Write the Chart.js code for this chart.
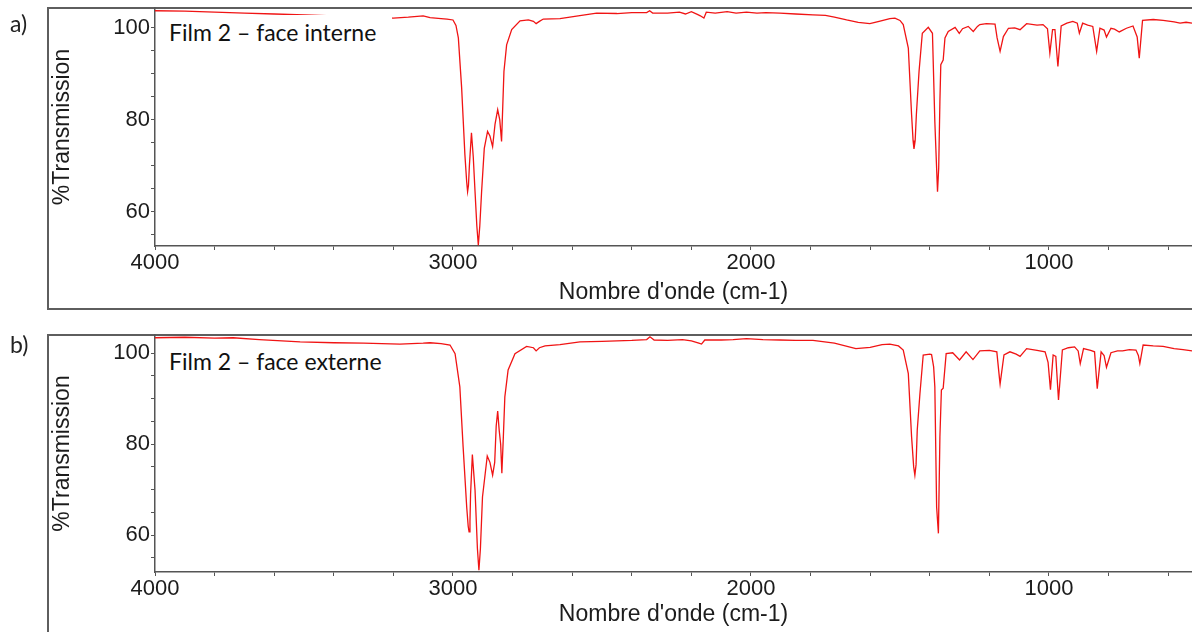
<!DOCTYPE html>
<html>
<head>
<meta charset="utf-8">
<script src="https://cdn.jsdelivr.net/npm/chart.js@4/dist/chart.umd.min.js"></script>
<style>
  body { margin: 0; width: 1192px; height: 632px; overflow: hidden; position: relative; background: #fff; }
  .frame { position: absolute; left: 47px; width: 1170px; border: 2px solid #5e5e5e; box-sizing: border-box; }
  #frameA { top: 7px; height: 303px; }
  #frameB { top: 334px; height: 320px; }
  canvas { position: absolute; left: 0; }
  #chartA { top: 0; }
  #chartB { top: 327px; }
  .tag { position: absolute; left: 10px; font-family: Lato, "Noto Sans", sans-serif; font-size: 23px; line-height: 1; color: #222; }
  .film { position: absolute; left: 158px; width: 223px; background: #fff; padding-left: 11px;
          font-family: Lato, "Noto Sans", sans-serif; font-size: 23px; line-height: 1; color: #111; white-space: nowrap; }
  #filmA { top: 15px; height: 32px; padding-top: 6px; }
  #filmB { top: 347px; height: 32px; padding-top: 3px; }
</style>
</head>
<body>
<div class="frame" id="frameA"></div>
<div class="frame" id="frameB"></div>
<canvas id="chartA" width="1192" height="310"></canvas>
<canvas id="chartB" width="1192" height="305"></canvas>
<div class="tag" style="top:12px">a)</div>
<div class="tag" style="top:333px">b)</div>
<div class="film" id="filmA">Film 2 – face interne</div>
<div class="film" id="filmB">Film 2 – face externe</div>

<script>
// wavenumbers (cm-1) and %T read off panel a) - face interne
const waveA = [4000, 3900, 3800, 3700, 3600, 3500, 3400, 3300, 3200, 3150, 3100, 3077, 3040, 3020, 3000,
  2990, 2982, 2971, 2960, 2954, 2951, 2948, 2945, 2938, 2932, 2926, 2920, 2915, 2910, 2904, 2895, 2884, 2876, 2867, 2859, 2850,
  2843, 2837, 2829, 2820, 2803, 2775, 2747, 2730, 2721, 2710, 2697, 2641, 2580, 2518, 2450, 2400, 2350,
  2340, 2330, 2280, 2240, 2220, 2200, 2180, 2170, 2158, 2150, 2120, 2080, 2050, 2015, 1980, 1950, 1903,
  1850, 1792, 1750, 1720, 1679, 1640, 1601, 1570, 1534, 1517, 1500, 1489, 1472, 1461, 1456, 1453, 1449, 1445, 1436,
  1425, 1405, 1391, 1383, 1374, 1370, 1366, 1363, 1355, 1349, 1338, 1315, 1301, 1290, 1271, 1254, 1240,
  1232, 1210, 1181, 1174, 1164, 1153, 1136, 1115, 1097, 1075, 1040, 1020, 1005, 997, 988, 980, 970, 959,
  940, 920, 905, 898, 887, 870, 853, 840, 829, 815, 807, 792, 780, 764, 740, 718, 704, 697, 686, 650,
  617, 580, 560, 540, 520];
const transA = [103.7, 103.6, 103.4, 103.2, 103.0, 102.8, 102.6, 102.3, 102.1, 102.3, 102.6, 102.2, 102.0, 101.9, 101.7,
  100.5, 97.8, 87.0, 72.4, 66.5, 64.4, 65.8, 70.0, 77.2, 72.0, 64.4, 57.0, 52.8, 57.0, 64.4, 73.8, 77.5, 76.5, 74.2, 79.0, 82.2,
  80.0, 75.3, 90.5, 96.3, 99.6, 101.5, 101.7, 101.4, 100.9, 101.4, 101.9, 102.0, 102.6, 103.2, 103.1, 103.3, 103.3,
  103.7, 103.2, 103.2, 103.4, 103.0, 103.5, 102.9, 102.6, 102.1, 103.4, 103.2, 103.5, 103.2, 103.4, 103.2, 103.3, 103.2,
  103.0, 102.8, 102.7, 102.3, 101.7, 101.2, 100.9, 101.4, 102.0, 102.1, 101.6, 100.7, 95.6, 81.1, 75.5, 73.7, 75.5, 81.1, 90.5,
  98.8, 100.1, 98.8, 79.6, 64.4, 69.6, 84.0, 92.0, 93.0, 97.8, 99.2, 100.1, 98.8, 99.8, 100.3, 99.2, 100.3,
  100.7, 100.9, 100.8, 97.8, 94.9, 98.1, 99.9, 100.0, 99.6, 100.9, 100.6, 100.7, 99.8, 94.5, 99.6, 99.6, 91.6, 100.4,
  101.0, 101.4, 101.0, 98.8, 101.0, 100.6, 100.3, 94.9, 99.9, 99.5, 98.0, 99.9, 99.7, 99.1, 99.9, 100.4, 98.0, 93.4, 101.6, 101.8,
  101.6, 101.3, 101.0, 101.2, 101.0];

// panel b) - face externe
const waveB = [4000, 3900, 3800, 3738, 3650, 3513, 3400, 3300, 3178, 3100, 3077, 3040, 3010, 2993, 2977,
  2966, 2954, 2949, 2946, 2943, 2941, 2935, 2926, 2918, 2913, 2908, 2901, 2885, 2876, 2867, 2860, 2855, 2850, 2845, 2840, 2836,
  2831, 2826, 2815, 2792, 2753, 2730, 2721, 2710, 2691, 2641, 2574, 2500, 2450, 2400, 2350, 2339, 2325,
  2280, 2230, 2200, 2175, 2166, 2155, 2100, 2060, 2015, 1960, 1903, 1850, 1792, 1720, 1648, 1600, 1560,
  1534, 1505, 1489, 1472, 1461, 1454, 1450, 1446, 1442, 1433, 1422, 1400, 1394, 1387, 1383, 1377, 1371, 1366, 1361,
  1355, 1345, 1323, 1300, 1278, 1255, 1232, 1200, 1175, 1166, 1164, 1151, 1131, 1110, 1097, 1075, 1040,
  1013, 1003, 995, 986, 977, 968, 955, 935, 914, 902, 895, 884, 860, 847, 838, 825, 815, 807, 792, 770,
  753, 730, 708, 700, 695, 684, 650, 617, 580, 550, 520];
const transB = [103.4, 103.5, 103.3, 103.4, 103.0, 102.5, 102.3, 102.2, 102.0, 102.2, 102.3, 102.1, 101.8, 99.9, 92.6,
  79.4, 66.2, 62.0, 60.7, 63.0, 69.0, 77.7, 69.9, 57.0, 52.3, 57.0, 68.4, 77.4, 76.0, 73.2, 76.0, 84.0, 87.3, 83.1, 80.0, 73.6,
  81.6, 90.4, 96.3, 99.9, 101.5, 101.2, 100.5, 101.2, 101.6, 101.9, 102.5, 102.6, 102.7, 102.8, 103.0, 103.6, 102.9,
  102.8, 103.0, 102.7, 102.2, 102.0, 102.9, 102.9, 103.0, 103.2, 103.0, 102.9, 102.8, 102.8, 102.2, 101.0, 101.3, 101.9,
  102.0, 101.6, 100.7, 95.5, 81.6, 75.0, 73.2, 75.5, 83.1, 91.1, 99.6, 99.8, 99.7, 97.0, 92.6, 66.2, 60.4, 81.6, 91.9,
  92.3, 99.9, 100.1, 98.5, 100.3, 98.6, 100.5, 100.6, 100.3, 94.4, 93.2, 99.6, 100.3, 99.8, 99.3, 101.0, 100.6,
  100.3, 98.0, 92.0, 99.6, 99.3, 89.7, 100.7, 101.2, 101.4, 100.5, 97.7, 101.0, 100.6, 100.3, 92.2, 100.3, 99.5, 96.9, 100.1, 100.5,
  100.5, 100.8, 100.7, 99.5, 97.7, 101.8, 101.6, 101.5, 101.0, 100.8, 100.5];

const xLabels = [4000, 3000, 2000, 1000];
const yLabels = [60, 80, 100];

const axisColor = "#555";
const textColor = "#1c1c1c";

function makeChart(id, waves, trans, yMin, yMax, xAxisHeight) {
  const ctx = document.getElementById(id).getContext("2d");
  return new Chart(ctx, {
    type: "line",
    data: {
      datasets: [{
        data: waves.map((w, i) => ({ x: w, y: trans[i] })),
        borderColor: "#f01414",
        borderWidth: 1.3,
        pointRadius: 0,
        tension: 0,
      }],
    },
    options: {
      responsive: false,
      animation: false,
      devicePixelRatio: 1,
      layout: { padding: { left: 49, top: 8, right: 0, bottom: 4 } },
      plugins: { legend: { display: false }, tooltip: { enabled: false } },
      scales: {
        x: {
          type: "linear",
          reverse: true,
          min: 520,
          max: 4000,
          afterFit: s => { s.height = xAxisHeight; s.paddingLeft = 0; s.paddingRight = 0; },
          ticks: {
            stepSize: 200,
            includeBounds: false,
            autoSkip: false,
            maxRotation: 0,
            padding: 0,
            color: textColor,
            font: { family: "'Liberation Sans', Arial, sans-serif", size: 22 },
            callback: v => xLabels.includes(v) ? String(v) : "",
          },
          grid: { drawOnChartArea: false, tickLength: 4, color: axisColor },
          border: { color: axisColor, width: 1.5 },
          title: {
            display: true,
            text: "Nombre d'onde (cm-1)",
            color: textColor,
            padding: 0,
            font: { family: "'Liberation Sans', Arial, sans-serif", size: 23 },
          },
        },
        y: {
          min: yMin,
          max: yMax,
          afterFit: s => { s.width = 106; s.paddingTop = 0; s.paddingBottom = 0; },
          ticks: {
            stepSize: 5,
            includeBounds: false,
            autoSkip: false,
            padding: 1,
            color: textColor,
            font: { family: "'Liberation Sans', Arial, sans-serif", size: 22 },
            callback: v => yLabels.includes(v) ? String(v) : "",
          },
          grid: { drawOnChartArea: false, tickLength: 4, color: axisColor },
          border: { color: axisColor, width: 1.5 },
          title: {
            display: true,
            text: "%Transmission",
            color: textColor,
            padding: 0,
            font: { family: "'Liberation Sans', Arial, sans-serif", size: 23 },
          },
        },
      },
    },
  });
}

makeChart("chartA", waveA, transA, 52.6, 104.3, 60);
makeChart("chartB", waveB, transB, 51.9, 104.0, 56);
</script>
</body>
</html>
